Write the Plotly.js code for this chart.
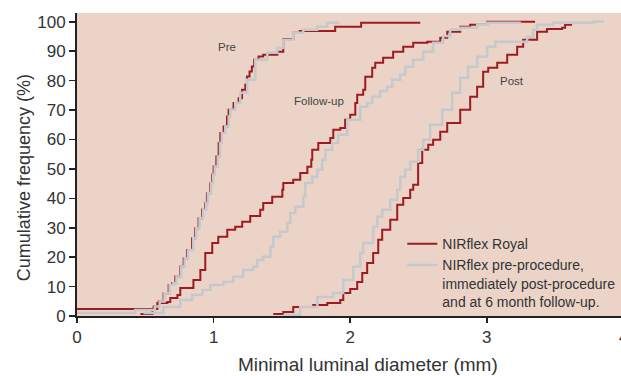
<!DOCTYPE html>
<html>
<head>
<meta charset="utf-8">
<script src="https://cdn.plot.ly/plotly-3.0.1.min.js"></script>
<style>html,body{margin:0;padding:0;background:#fff;}#chart{width:621px;height:376px;}</style>
</head>
<body>
<div id="chart"></div>
<script>
// ---- Data ----
// NIRflex Royal (red)
const preRoyalX = [0, 0.561, 0.598, 0.634, 0.671, 0.696, 0.720, 0.757, 0.781, 0.805, 0.842, 0.866, 0.890, 0.915, 0.939, 0.951, 0.976, 0.988, 1.000, 1.020, 1.037, 1.049, 1.073, 1.098, 1.110, 1.146, 1.183, 1.208, 1.232, 1.244, 1.263, 1.280, 1.297, 1.329, 1.363, 1.466, 1.510, 1.583, 1.630, 1.890, 2.080, 2.513];
const preRoyalY = [2.4, 3.2, 4.9, 7.7, 10.5, 11.1, 13.4, 16.8, 19.6, 22.4, 26.4, 29.8, 33.2, 36.1, 38.3, 41.7, 45.1, 48.0, 50.8, 54.2, 58.8, 62.2, 64.4, 67.8, 70.1, 72.4, 74.0, 76.9, 78.6, 81.4, 83.1, 84.8, 87.1, 88.2, 88.8, 89.8, 94.2, 96.3, 96.9, 98.3, 99.7, 99.7];

const fuRoyalX = [0.464, 0.552, 0.588, 0.661, 0.683, 0.735, 0.756, 0.852, 0.903, 0.939, 0.990, 1.034, 1.100, 1.158, 1.209, 1.268, 1.341, 1.363, 1.429, 1.503, 1.510, 1.583, 1.634, 1.686, 1.715, 1.722, 1.766, 1.854, 1.876, 1.927, 1.963, 2.000, 2.037, 2.051, 2.095, 2.110, 2.161, 2.183, 2.241, 2.314, 2.388, 2.461, 2.564, 2.659, 2.710, 2.805, 2.878, 3.002, 3.353];
const fuRoyalY = [0.7, 2.4, 4.4, 4.8, 6.1, 7.1, 9.5, 12.2, 15.6, 21.4, 24.8, 26.9, 29.3, 30.3, 32.0, 34.0, 36.1, 38.4, 40.5, 42.9, 45.2, 46.3, 48.6, 50.7, 53.1, 56.5, 58.8, 60.5, 63.3, 63.9, 66.7, 68.4, 72.4, 75.2, 76.9, 81.3, 84.4, 86.1, 87.8, 89.8, 91.5, 92.9, 93.2, 94.6, 96.6, 98.3, 99.0, 100, 100];

const postRoyalX = [1.437, 1.510, 1.583, 1.729, 1.832, 1.927, 1.949, 2.000, 2.051, 2.088, 2.124, 2.168, 2.205, 2.234, 2.293, 2.344, 2.388, 2.439, 2.461, 2.497, 2.527, 2.571, 2.607, 2.659, 2.710, 2.805, 2.878, 2.929, 2.973, 3.010, 3.076, 3.149, 3.222, 3.266, 3.368, 3.441, 3.551, 3.573, 3.624];
const postRoyalY = [0.7, 1.4, 3.1, 3.7, 4.4, 5.4, 7.8, 9.2, 11.6, 14.6, 18.0, 21.4, 25.9, 29.3, 32.7, 37.8, 40.1, 42.9, 44.6, 52.0, 56.5, 58.2, 59.9, 62.6, 65.6, 70.1, 74.5, 77.9, 83.0, 84.4, 86.1, 88.8, 91.5, 93.9, 96.6, 97.6, 98.0, 99.0, 99.0];

// NIRflex (gray)
const preFlexX = [0, 0.425, 0.570, 0.605, 0.640, 0.678, 0.705, 0.728, 0.763, 0.788, 0.812, 0.850, 0.873, 0.897, 0.922, 0.945, 0.958, 0.982, 0.995, 1.008, 1.030, 1.047, 1.060, 1.085, 1.110, 1.122, 1.158, 1.195, 1.246, 1.305, 1.393, 1.466, 1.510, 1.583, 1.656, 1.758, 1.832, 1.912];
const preFlexY = [1.0, 2.0, 3.2, 4.9, 7.7, 10.5, 11.1, 13.4, 16.8, 19.6, 22.4, 26.4, 29.8, 33.2, 36.1, 38.3, 41.7, 45.1, 48.0, 50.8, 54.2, 58.8, 62.2, 64.4, 67.8, 70.1, 72.4, 75.9, 80.3, 87.1, 89.5, 91.2, 93.9, 96.3, 97.3, 98.3, 99.7, 100];

const fuFlexX = [0.486, 0.632, 0.756, 0.844, 0.917, 0.976, 1.071, 1.144, 1.217, 1.290, 1.320, 1.363, 1.415, 1.437, 1.488, 1.539, 1.561, 1.598, 1.656, 1.671, 1.722, 1.759, 1.795, 1.817, 1.868, 1.912, 1.978, 2.073, 2.124, 2.161, 2.219, 2.271, 2.307, 2.366, 2.402, 2.461, 2.534, 2.607, 2.680, 2.731, 2.805, 2.929, 3.002, 3.244];
const fuFlexY = [1.0, 3.1, 5.4, 7.1, 8.8, 10.5, 11.6, 13.3, 15.6, 16.7, 19.0, 20.1, 23.5, 26.9, 28.6, 31.6, 35.0, 37.1, 40.5, 45.2, 47.3, 49.7, 53.1, 56.5, 58.8, 61.6, 66.7, 71.1, 72.4, 74.5, 76.5, 77.9, 80.3, 82.0, 84.7, 87.1, 89.8, 92.9, 95.2, 97.3, 98.0, 99.0, 99.7, 100];

const postFlexX = [1.510, 1.634, 1.759, 1.876, 1.949, 2.022, 2.073, 2.095, 2.168, 2.198, 2.234, 2.293, 2.344, 2.366, 2.402, 2.439, 2.497, 2.534, 2.585, 2.673, 2.746, 2.805, 2.863, 2.929, 3.002, 3.061, 3.192, 3.295, 3.339, 3.368, 3.485, 3.778, 3.858];
const postFlexY = [0.3, 3.1, 6.5, 7.8, 12.2, 16.7, 21.4, 24.8, 30.3, 33.7, 36.1, 39.5, 42.9, 47.3, 49.7, 52.4, 56.5, 59.9, 65.0, 70.1, 75.9, 81.0, 84.7, 88.1, 91.5, 93.2, 93.2, 94.9, 97.3, 99.0, 99.7, 100, 100];

const xTicks = [0, 1, 2, 3];
const yTicks = [0, 10, 20, 30, 40, 50, 60, 70, 80, 90, 100];
const curveLabels = [
  {text: 'Pre', x: 1.099, y: 91.5},
  {text: 'Follow-up', x: 1.773, y: 73.1},
  {text: 'Post', x: 3.187, y: 79.9}
];
const xTitle = 'Minimal luminal diameter (mm)';
const yTitle = 'Cumulative frequency (%)';
const legendRoyal = 'NIRflex Royal';
const legendFlex = 'NIRflex pre-procedure,<br>immediately post-procedure<br>and at 6 month follow-up.';

// ---- Styling ----
const RED = '#9e1b21';
const GRAY = '#c6c8ca';
const FONT = 'Liberation Sans, Arial, sans-serif';

function stepTrace(x, y, color, width, name, show) {
  return {
    x: x, y: y, type: 'scatter', mode: 'lines',
    line: {color: color, width: width, shape: 'hv'},
    name: name, showlegend: show, legendgroup: name, hoverinfo: 'skip'
  };
}

const data = [
  stepTrace(preRoyalX, preRoyalY, RED, 2, legendRoyal, true),
  stepTrace(fuRoyalX, fuRoyalY, RED, 2, legendRoyal, false),
  stepTrace(postRoyalX, postRoyalY, RED, 2, legendRoyal, false),
  stepTrace(preFlexX, preFlexY, GRAY, 2.5, legendFlex, true),
  stepTrace(fuFlexX, fuFlexY, GRAY, 2.5, legendFlex, false),
  stepTrace(postFlexX, postFlexY, GRAY, 2.5, legendFlex, false)
];

const annotations = curveLabels.map(l => ({
  text: l.text, x: l.x, y: l.y, xref: 'x', yref: 'y', showarrow: false,
  font: {family: FONT, size: 11.5, color: '#444'}
}));
// tick label "4" cut by the right edge of the figure (as in the reference)
annotations.push({
  text: '4', xref: 'paper', yref: 'paper', x: 1.0044, y: -0.0726,
  xanchor: 'center', yanchor: 'middle', showarrow: false,
  font: {family: FONT, size: 17, color: '#333'}
});
// axis titles
annotations.push({
  text: xTitle, xref: 'paper', yref: 'paper', x: 0.535, y: -0.160,
  xanchor: 'center', yanchor: 'middle', showarrow: false,
  font: {family: FONT, size: 19, color: '#333'}
});
annotations.push({
  text: yTitle, xref: 'paper', yref: 'paper', x: -0.0974, y: 0.455,
  xanchor: 'center', yanchor: 'middle', showarrow: false, textangle: -90,
  font: {family: FONT, size: 18, color: '#333'}
});

const layout = {
  width: 621, height: 376,
  margin: {l: 77, r: 0, t: 13, b: 60, pad: 0},
  paper_bgcolor: '#ffffff',
  plot_bgcolor: '#ebd3c8',
  font: {family: FONT, color: '#333'},
  xaxis: {
    range: [0, 3.982], tickvals: xTicks, ticktext: xTicks.map(String),
    showgrid: false, zeroline: false, showline: true, linecolor: '#222', linewidth: 2,
    ticks: 'outside', ticklen: 5, tickwidth: 1.5, tickcolor: '#222',
    tickfont: {family: FONT, size: 17, color: '#333'},
    fixedrange: true
  },
  yaxis: {
    range: [0, 103], tickvals: yTicks, ticktext: yTicks.map(String),
    showgrid: false, zeroline: false, showline: true, linecolor: '#222', linewidth: 2,
    ticks: 'outside', ticklen: 6, tickwidth: 1.5, tickcolor: '#222',
    tickfont: {family: FONT, size: 17, color: '#333'},
    fixedrange: true
  },
  showlegend: true,
  legend: {
    x: 0.598, y: 0.29, xanchor: 'left', yanchor: 'top',
    bgcolor: 'rgba(0,0,0,0)', borderwidth: 0,
    font: {family: FONT, size: 14, color: '#333'},
    valign: 'top', tracegroupgap: 0
  },
  annotations: annotations
};

Plotly.newPlot('chart', data, layout, {displayModeBar: false, staticPlot: true});
</script>
</body>
</html>
